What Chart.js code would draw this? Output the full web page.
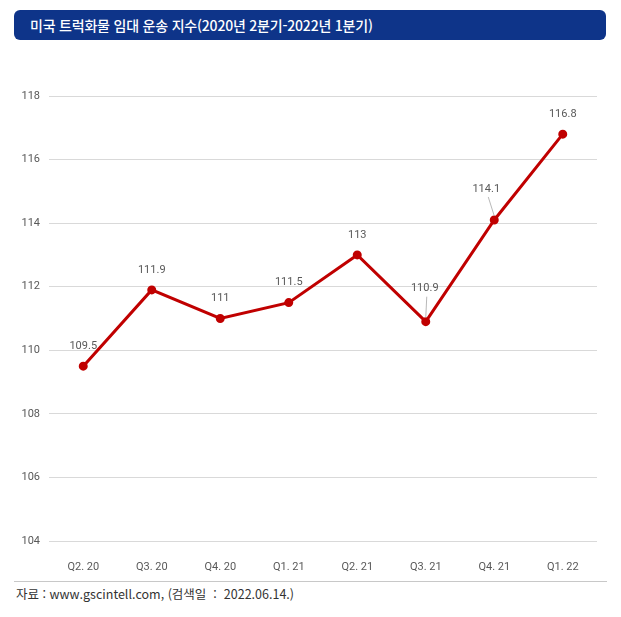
<!DOCTYPE html>
<html lang="ko">
<head>
<meta charset="utf-8">
<script src="https://cdn.jsdelivr.net/npm/chart.js@4.4.1/dist/chart.umd.min.js"></script>
<style>
  body { margin: 0; background: #fff; font-family: "Noto Sans CJK KR", "Noto Sans", sans-serif; }
  #page { position: relative; width: 621px; height: 617px; overflow: hidden; }
  #title {
    position: absolute; left: 14px; top: 10px; width: 592px; height: 30px;
    background: #0e3489; border-radius: 6px; color: #fff;
    font-size: 14px; font-weight: 500; line-height: 30px; padding-left: 16px;
    box-sizing: border-box; letter-spacing: -0.2px;
  }
  #wrap { position: absolute; left: 0; top: 0; width: 621px; height: 576px; }
  #rule { position: absolute; left: 14px; top: 581px; width: 593px; height: 1px; background: #c8c8c8; }
  #source {
    position: absolute; left: 16px; top: 584px; font-size: 12.5px; color: #333;
    letter-spacing: 0;
  }
</style>
</head>
<body>
<div id="page">
  <div id="wrap"><canvas id="chart"></canvas></div>
  <div id="title">미국 트럭화물 임대 운송 지수(2020년 2분기-2022년 1분기)</div>
  <div id="rule"></div>
  <div id="source">자료 : www.gscintell.com, (검색일&nbsp; : &nbsp;2022.06.14.)</div>
</div>
<script>
const quarters = ["Q2. 20", "Q3. 20", "Q4. 20", "Q1. 21", "Q2. 21", "Q3. 21", "Q4. 21", "Q1. 22"];
const indexValues = [109.5, 111.9, 111, 111.5, 113, 110.9, 114.1, 116.8];
const yTicks = [104, 106, 108, 110, 112, 114, 116, 118];

const axisFont = { family: "Roboto, 'Liberation Sans Narrow', sans-serif", size: 11 };

// value labels above points; a couple are nudged and get a leader line
const valueLabels = {
  id: "valueLabels",
  afterDatasetsDraw(chart, args, opts) {
    const ctx = chart.ctx;
    const meta = chart.getDatasetMeta(0);
    ctx.save();
    ctx.font = "11px " + axisFont.family;
    ctx.fillStyle = "#595959";
    ctx.textAlign = "center";
    ctx.textBaseline = "middle";
    meta.data.forEach(function (pt, i) {
      const off = opts.offsets[i] || [0, -20];
      const lx = pt.x + off[0];
      const ly = pt.y + off[1];
      if (opts.leaders.includes(i)) {
        ctx.strokeStyle = "#a6a6a6";
        ctx.lineWidth = 0.8;
        ctx.beginPath();
        ctx.moveTo(lx + (off[0] ? 2 : 0), ly + 8);
        ctx.lineTo(pt.x, pt.y - 4);
        ctx.stroke();
      }
      ctx.fillText(String(indexValues[i]), lx, ly);
    });
    ctx.restore();
  }
};

new Chart(document.getElementById("chart"), {
  type: "line",
  data: {
    labels: quarters,
    datasets: [{
      data: indexValues,
      borderColor: "#c00000",
      backgroundColor: "#c00000",
      borderWidth: 3,
      pointRadius: 3,
      pointHoverRadius: 3,
      tension: 0
    }]
  },
  options: {
    responsive: true,
    maintainAspectRatio: false,
    animation: false,
    layout: { padding: { top: 96, right: 24, bottom: 4, left: 0 } },
    plugins: {
      legend: { display: false },
      tooltip: { enabled: false },
      valueLabels: {
        offsets: { 5: [-1, -33], 6: [-8, -31] },
        leaders: [5, 6]
      }
    },
    scales: {
      x: {
        offset: true,
        grid: { display: false },
        border: { display: false },
        ticks: { color: "#595959", font: axisFont, padding: 12, maxRotation: 0 },
        afterFit(scale) { scale.height = 31; }
      },
      y: {
        min: 104,
        max: 118,
        afterBuildTicks(scale) { scale.ticks = yTicks.map(function (v) { return { value: v }; }); },
        grid: { color: "#d9d9d9", lineWidth: 1, drawTicks: false },
        border: { display: false },
        ticks: { color: "#595959", font: axisFont, padding: 9 },
        afterFit(scale) { scale.width = 49; }
      }
    }
  },
  plugins: [valueLabels]
});
</script>
</body>
</html>
